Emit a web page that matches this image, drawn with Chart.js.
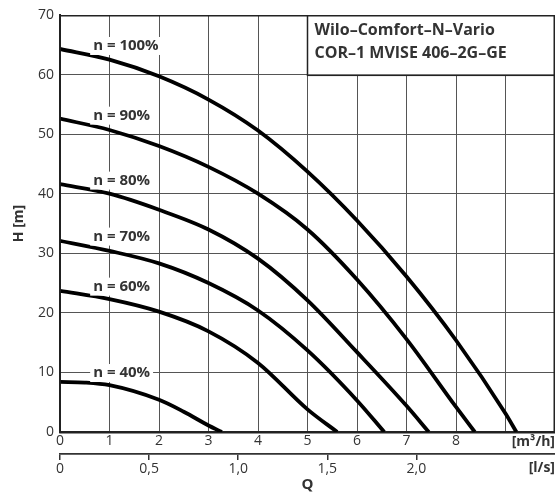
<!DOCTYPE html>
<html>
<head>
<meta charset="utf-8">
<script src="https://cdn.jsdelivr.net/npm/chart.js@4/dist/chart.umd.min.js"></script>
<style>
  html, body { margin: 0; padding: 0; background: #fff; }
  #wrap { width: 555px; height: 494px; position: relative; }
</style>
</head>
<body>
<div id="wrap"><canvas id="c" width="555" height="494"></canvas></div>
<script>
// ---- data ----
const speedLabels = ["n = 100%", "n = 90%", "n = 80%", "n = 70%", "n = 60%", "n = 40%"];
const q100 = [0, 1, 2, 3, 4, 5, 6, 7, 8, 9, 9.22];
const h100 = [64.3, 62.5, 59.7, 55.8, 50.6, 43.7, 35.5, 26.1, 15.4, 3.1, 0];
const q90 = [0, 1, 2, 3, 4, 5, 6, 7, 8, 8.38];
const h90 = [52.6, 50.7, 48.0, 44.5, 40.0, 34.0, 25.6, 15.6, 4.2, 0];
const q80 = [0, 1, 2, 3, 4, 5, 6, 7, 7.45];
const h80 = [41.6, 40.0, 37.3, 34.0, 29.1, 22.1, 13.4, 4.4, 0];
const q70 = [0, 1, 2, 3, 4, 5, 6, 6.55];
const h70 = [32.1, 30.4, 28.3, 25.0, 20.4, 13.7, 5.3, 0];
const q60 = [0, 1, 2, 3, 4, 5, 5.6];
const h60 = [23.7, 22.3, 20.2, 16.9, 11.6, 3.8, 0];
const q40 = [0, 0.5, 1, 2, 2.5, 3, 3.27];
const h40 = [8.4, 8.3, 7.85, 5.4, 3.4, 1.1, 0];
const m3hTicks = [0, 1, 2, 3, 4, 5, 6, 7, 8, 9];
const m3hTickLabels = ["0", "1", "2", "3", "4", "5", "6", "7", "8", ""];
const lsTicks = [0, 0.5, 1.0, 1.5, 2.0];
const lsTickLabels = ["0", "0,5", "1,0", "1,5", "2,0"];
const yTicks = [0, 10, 20, 30, 40, 50, 60, 70];
const titleLines = ["Wilo–Comfort–N–Vario", "COR–1 MVISE 406–2G–GE"];
const xUnit = "[m³/h]";
const lsUnit = "[l/s]";
const xTitle = "Q";
const yTitle = "H [m]";

const qSeries = [q100, q90, q80, q70, q60, q40];
const hSeries = [h100, h90, h80, h70, h60, h40];

// label anchor (data coords) for the speed labels: left x, centre y
const labelAnchors = [[0.67, 64.8], [0.67, 53.1], [0.67, 42.2], [0.67, 32.8], [0.67, 24.4], [0.67, 9.9]];

const FONT = "'Open Sans', 'Noto Sans', sans-serif";
const TXT = "#333";

const datasets = qSeries.map((qs, i) => ({
  label: speedLabels[i],
  data: qs.map((q, j) => ({ x: q, y: hSeries[i][j] })),
  borderColor: "#000",
  borderWidth: 3.8,
  pointRadius: 0,
  fill: false,
  cubicInterpolationMode: "monotone",
  xAxisID: "x",
  yAxisID: "y"
}));

const overlay = {
  id: "overlay",
  afterDatasetsDraw(chart) {
    const ctx = chart.ctx;
    const a = chart.chartArea;
    const xs = chart.scales.x, ys = chart.scales.y;
    ctx.save();
    // frame
    ctx.strokeStyle = "#222";
    ctx.lineWidth = 1.5;
    ctx.strokeRect(a.left, a.top + 0.75, a.right - a.left - 0.75, a.bottom - a.top);
    // speed labels
    ctx.font = "bold 15px " + FONT;
    ctx.textBaseline = "middle";
    ctx.textAlign = "left";
    speedLabels.forEach((t, i) => {
      const px = xs.getPixelForValue(labelAnchors[i][0]);
      const py = ys.getPixelForValue(labelAnchors[i][1]);
      const w = ctx.measureText(t).width;
      ctx.fillStyle = "#fff";
      ctx.fillRect(px - 3, py - 9, w + 6, 18);
      ctx.fillStyle = TXT;
      ctx.fillText(t, px, py);
    });
    // title box
    const bx = xs.getPixelForValue(5), by = ys.getPixelForValue(60);
    ctx.fillStyle = "#fff";
    ctx.fillRect(bx, a.top, a.right - bx, by - a.top);
    ctx.strokeStyle = "#222";
    ctx.lineWidth = 1.5;
    ctx.strokeRect(bx, a.top + 0.75, a.right - bx - 0.75, by - a.top);
    ctx.fillStyle = TXT;
    ctx.font = "bold 16px " + FONT;
    ctx.fillText(titleLines[0], bx + 7, a.top + 15);
    ctx.fillText(titleLines[1], bx + 7, a.top + 38);
    // unit labels
    ctx.textAlign = "right";
    ctx.font = "bold 14px " + FONT;
    ctx.fillText(xUnit, a.right, a.bottom + 10);
    ctx.fillText(lsUnit, a.right, a.bottom + 36);
    ctx.restore();
  }
};

new Chart(document.getElementById("c"), {
  type: "line",
  data: { datasets },
  options: {
    responsive: false,
    animation: false,
    devicePixelRatio: 1,
    layout: { padding: { top: 15, right: 0, left: 0, bottom: 0 } },
    plugins: { legend: { display: false }, tooltip: { enabled: false } },
    scales: {
      x: {
        type: "linear", position: "bottom", min: 0, max: 10,
        afterBuildTicks: s => { s.ticks = m3hTicks.map(v => ({ value: v })); },
        afterFit: s => { s.height = 22; },
        ticks: {
          autoSkip: false, maxRotation: 0, padding: 1,
          color: TXT, font: { family: FONT, size: 14 },
          callback: (v) => { const k = m3hTicks.indexOf(v); return k >= 0 ? m3hTickLabels[k] : ""; }
        },
        grid: { color: "#555", lineWidth: 1, drawTicks: false },
        border: { color: "#222", width: 2 }
      },
      x2: {
        type: "linear", position: "bottom", min: 0, max: 10 / 3.6,
        afterBuildTicks: s => { s.ticks = lsTicks.map(v => ({ value: v })); },
        afterFit: s => { s.height = 40; },
        ticks: {
          autoSkip: false, maxRotation: 0, padding: 1,
          color: TXT, font: { family: FONT, size: 14 },
          callback: (v) => { const k = lsTicks.indexOf(v); return k >= 0 ? lsTickLabels[k] : ""; }
        },
        grid: { drawOnChartArea: false, drawTicks: true, tickLength: 6, color: "#333", lineWidth: 1.5 },
        border: { color: "#333", width: 1.8 },
        title: { display: true, text: xTitle, color: TXT, font: { family: FONT, size: 15, weight: "bold" }, padding: { top: 0, bottom: 0 } }
      },
      y: {
        type: "linear", position: "left", min: 0, max: 70,
        afterBuildTicks: s => { s.ticks = yTicks.map(v => ({ value: v })); },
        afterFit: s => { s.width = 60; },
        ticks: { padding: 6, color: TXT, font: { family: FONT, size: 14 } },
        grid: { color: "#555", lineWidth: 1, drawTicks: false },
        border: { color: "#222", width: 2 },
        title: { display: true, text: yTitle, color: TXT, font: { family: FONT, size: 14, weight: "bold" }, padding: { top: 11, bottom: 0 } }
      }
    }
  },
  plugins: [overlay]
});
</script>
</body>
</html>
